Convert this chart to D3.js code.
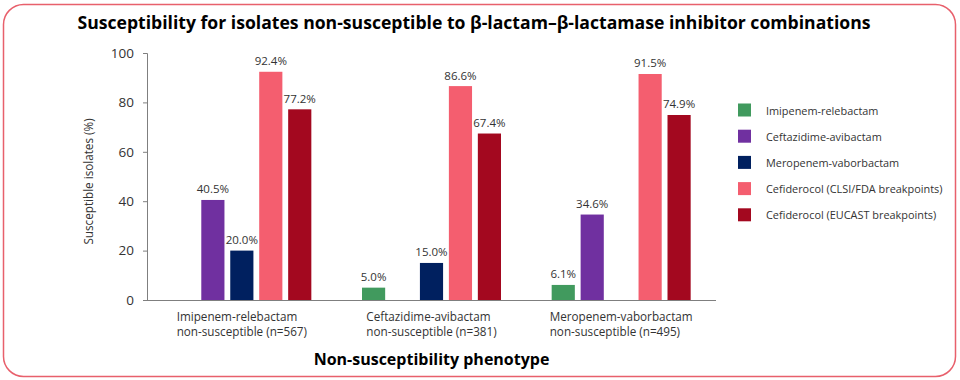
<!DOCTYPE html>
<html><head><meta charset="utf-8">
<script src="https://cdn.jsdelivr.net/npm/d3@7"></script>
<style>body{margin:0;background:#fff;}svg{display:block;font-family:"Open Sans",sans-serif;}</style>
</head><body><svg id="c" width="960" height="380"></svg>
<script>
const categories = [["Imipenem-relebactam","non-susceptible (n=567)"],["Ceftazidime-avibactam","non-susceptible (n=381)"],["Meropenem-vaborbactam","non-susceptible (n=495)"]];
const seriesNames = ["Imipenem-relebactam","Ceftazidime-avibactam","Meropenem-vaborbactam","Cefiderocol (CLSI/FDA breakpoints)","Cefiderocol (EUCAST breakpoints)"];
const seriesColors = ["#419a5e","#7030a0","#00205f","#f45e6f","#a3081f"];
const imipenemRelebactam = [null, 5.0, 6.1];
const ceftazidimeAvibactam = [40.5, null, 34.6];
const meropenemVaborbactam = [20.0, 15.0, null];
const cefiderocolCLSI = [92.4, 86.6, 91.5];
const cefiderocolEUCAST = [77.2, 67.4, 74.9];
const yTicks = [0,20,40,60,80,100];
const seriesValues = [imipenemRelebactam, ceftazidimeAvibactam, meropenemVaborbactam, cefiderocolCLSI, cefiderocolEUCAST];

(function(){
const svg = d3.select("#c");
svg.append("rect").attr("x",3.5).attr("y",4.5).attr("width",952).attr("height",372).attr("rx",20)
  .attr("fill","none").attr("stroke","#e8606c").attr("stroke-width",1.5);

svg.append("text").attr("x",474).attr("y",28.5).attr("text-anchor","middle")
  .attr("font-size",17.6).attr("font-weight","bold").attr("fill","#000")
  .text("Susceptibility for isolates non-susceptible to β-lactam–β-lactamase inhibitor combinations");

const pl=147,pr=716,pt=53,pb=300;
const y = d3.scaleLinear().domain([0,100]).range([pb,pt]);
const x0 = d3.scaleBand().domain(d3.range(3)).range([pl,pr]).padding(0);
const x1 = d3.scaleBand().domain(d3.range(5)).range([0,139]).paddingInner(0.2).paddingOuter(0);

const yAxis = svg.append("g").attr("transform",`translate(${pl},0)`)
  .call(d3.axisLeft(y).tickValues(yTicks).tickSize(4).tickPadding(9));
yAxis.select(".domain").attr("stroke","#7f7f7f");
yAxis.selectAll(".tick line").attr("stroke","#7f7f7f");
yAxis.selectAll(".tick text").attr("font-size",13.5).attr("fill","#333").attr("font-family","Open Sans");

svg.append("line").attr("x1",pl).attr("x2",pr).attr("y1",pb+0.5).attr("y2",pb+0.5).attr("stroke","#7f7f7f");

svg.append("text").attr("transform",`translate(93,181.5) rotate(-90)`).attr("text-anchor","middle")
  .attr("font-size",11.7).attr("fill","#333").text("Susceptible isolates (%)");

const groups = svg.append("g");
categories.forEach((cat,gi)=>{
  const cx = x0(gi)+x0.bandwidth()/2;
  const start = cx-69.5;
  seriesValues.forEach((vals,si)=>{
    const v = vals[gi];
    if (v===null) return;
    const bx = start + x1(si);
    groups.append("rect").attr("x",bx).attr("y",y(v)).attr("width",x1.bandwidth()).attr("height",pb-y(v))
      .attr("fill",seriesColors[si]);
    groups.append("text").attr("x",bx+x1.bandwidth()/2).attr("y",y(v)-6.5).attr("text-anchor","middle")
      .attr("font-size",11.5).attr("fill","#333").text(v.toFixed(1)+"%");
  });
  const t = svg.append("text").attr("font-size",11.7).attr("fill","#333");
  const l1 = t.append("tspan").attr("y",320.5).text(cat[0]);
  const l2 = t.append("tspan").attr("y",336).text(cat[1]);
  const w = Math.max(l1.node().getComputedTextLength(), l2.node().getComputedTextLength());
  l1.attr("x",cx-w/2); l2.attr("x",cx-w/2);
});

svg.append("text").attr("x",(pl+pr)/2).attr("y",365).attr("text-anchor","middle")
  .attr("font-size",16).attr("font-weight","bold").attr("fill","#000").text("Non-susceptibility phenotype");

const leg = svg.append("g");
seriesNames.forEach((n,i)=>{
  const cy = 110 + i*26.2;
  leg.append("rect").attr("x",738).attr("y",cy-6.5).attr("width",13).attr("height",13).attr("fill",seriesColors[i]);
  leg.append("text").attr("x",766).attr("y",cy+4.5).attr("font-size",10.9).attr("fill","#333").text(n);
});
})();
</script></body></html>
